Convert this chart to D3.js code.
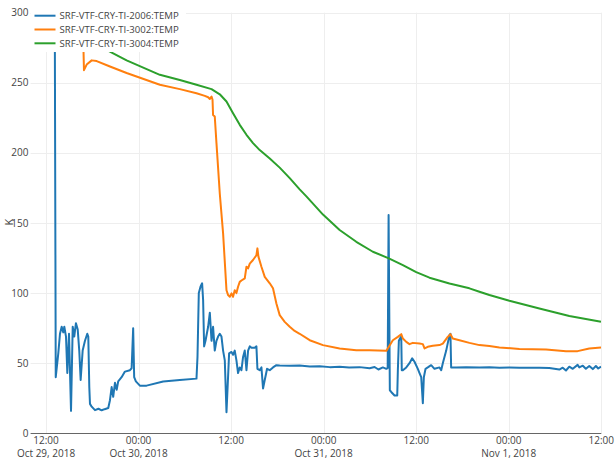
<!DOCTYPE html>
<html>
<head>
<meta charset="utf-8">
<script src="https://cdn.jsdelivr.net/npm/d3@7"></script>
<style>
  html, body { margin: 0; padding: 0; background: #fff; }
  svg { display: block; }
  text { font-family: "Open Sans", "DejaVu Sans", sans-serif; fill: #444; }
</style>
</head>
<body>
<svg id="chart" width="615" height="460"></svg>
<script>
// ---- data: [hours since 2018-10-29 00:00, temperature K] ----
const seriesNames = ["SRF-VTF-CRY-TI-2006:TEMP", "SRF-VTF-CRY-TI-3002:TEMP", "SRF-VTF-CRY-TI-3004:TEMP"];
const seriesColors = ["#1f77b4", "#ff7f0e", "#2ca02c"];

const ti2006 = [
  [13.14,290],[13.26,40],[13.59,57],[13.81,71],[14.03,76],[14.24,72],[14.37,76],[14.59,69],[14.76,43],
  [14.98,71],[15.24,16],[15.46,76],[15.66,69],[15.88,78.5],[16.11,74],[16.31,59],[16.49,38],[16.75,59],
  [17.05,66],[17.35,71],[17.48,69],[17.61,33],[17.70,21],[17.92,19],[18.35,16.5],[18.8,17.5],[19.21,16.4],
  [19.6,17.2],[20.07,18],[20.29,23.6],[20.51,33],[20.71,26],[20.94,36],[21.16,31],[21.36,37],[21.80,40],
  [22.23,44],[22.88,45],[23.10,46.4],[23.30,75],[23.43,40],[23.65,37],[24.17,34],[25.04,34],[27.19,37],
  [29.35,38],[31.51,39],[31.64,54.5],[31.81,100],[32.03,104.5],[32.24,107],[32.37,95],[32.50,62],[32.68,66],
  [33.02,76],[33.24,86],[33.46,66],[33.66,76],[33.88,59],[34.10,66],[34.31,69],[34.53,71],[34.75,69],
  [34.96,59],[35.18,52],[35.40,15],[35.74,57],[36.05,58],[36.25,56],[36.47,59],[36.69,52],[36.90,43],
  [37.12,47],[37.34,45],[37.55,54.5],[37.77,59],[37.99,45],[38.20,59],[38.42,62],[38.64,61],[39.06,61],
  [39.28,62],[39.41,46],[39.71,45],[39.93,47],[40.14,32],[40.36,38],[40.49,41.4],[40.66,46],[41.01,45],
  [41.43,47],[41.87,48.6],[42.30,48.4],[43.60,48.2],[44.89,48.4],[46.2,47.6],[47.48,47.8],[48.8,47.2],
  [50.07,47.5],[51.3,47.0],[52.66,47.2],[53.96,46.4],[54.6,47.3],[55.1,45.5],[55.68,47.0],[56.12,46],
  [56.30,46.5],[56.42,155.7],[56.58,30.7],[56.76,29.5],[57.19,27],[57.54,27],[57.62,45],[57.75,66],
  [57.93,68],[58.06,69],[58.13,45],[58.27,45],[58.71,47],[59.13,50],[59.48,53.5],[59.78,51],[60.21,46],
  [60.43,43],[60.65,40],[60.86,21.5],[60.99,40],[61.21,46],[61.50,47],[61.94,48.6],[62.37,46],[63.02,47],
  [63.24,45],[63.45,50],[63.89,59],[64.31,70],[64.44,71],[64.53,47],[65.18,47],[66.48,47.2],[68.20,46.9],
  [69.49,47.1],[70.79,46.8],[72.08,46.9],[73.38,46.8],[74.67,46.8],[75.97,46.7],[77.26,46.5],[78.56,45.5],
  [79.0,46.8],[79.42,44.8],[79.85,47.5],[80.3,46],[80.93,48.8],[81.15,47],[81.6,48.2],[82.0,46],[82.44,48],
  [82.9,45.8],[83.3,48],[83.6,46.2],[83.96,47.5]
];

const ti3002 = [
  [16.83,280],[16.92,259],[17.27,263],[17.92,266],[18.57,265.5],[20.29,261.6],[22.45,257],[26.76,248.6],
  [29.35,245.5],[31.51,242.6],[32.59,240.7],[33.02,239.7],[33.24,238.5],[33.46,240.2],[33.59,237.9],
  [33.66,227],[33.88,226],[34.10,207],[34.53,171],[34.96,142.6],[35.40,102],[35.61,98.6],[35.83,97.4],
  [36.05,99.8],[36.25,97.4],[36.47,102],[36.69,100],[36.90,104.5],[37.12,108],[37.34,109],[37.77,110.5],
  [37.99,118.8],[38.20,117.6],[38.42,121],[38.84,123.6],[39.28,127],[39.41,131.9],[39.54,126],[39.93,118.8],
  [40.36,111.6],[41.01,107],[41.43,103.4],[41.87,92.6],[42.30,84.3],[42.95,79.5],[43.60,76],[44.24,73],
  [44.89,71],[46.19,66.4],[47.91,62.9],[50.07,60.5],[52.23,59.3],[53.96,59.2],[56.12,58.8],[56.45,61.7],
  [56.97,66.4],[57.62,68.8],[58.06,70.7],[58.27,67.6],[58.71,65.2],[59.13,63.6],[59.56,64.5],[60.43,64],
  [60.86,63.6],[61.08,60.5],[61.50,61.7],[62.15,62.4],[63.02,62.9],[63.45,64],[64.09,68.8],[64.44,70.7],
  [64.74,67.6],[65.61,66.4],[66.90,64.5],[68.20,62.9],[69.49,62.2],[70.79,61.2],[73.38,60.2],[76.84,59.8],
  [79.42,58.6],[80.93,58.6],[82.44,60.5],[83.96,61.2]
];

const ti3004 = [
  [18.35,278],[20.71,271],[22.45,266],[26.76,255.7],[29.35,252],[31.51,248.6],[33.46,245.5],[34.53,241.8],
  [35.40,236.7],[36.25,228.3],[37.12,220],[37.99,212.9],[38.84,207],[39.71,202],[41.01,196],[42.30,189.5],
  [43.60,182],[44.89,174],[45.76,169],[47.91,156],[50.07,145],[52.23,136.6],[54.38,129.5],[56.45,124.8],
  [58.27,120],[60.00,115],[61.72,111],[64.31,106.9],[66.90,103.4],[68.20,101],[69.49,98.6],[72.08,94.5],
  [75.97,89],[79.85,83.6],[83.96,79.5]
];

const yTicks = [0, 50, 100, 150, 200, 250, 300];
const xTickHours = [12, 24, 36, 48, 60, 72, 84];
const xTickLine1 = ["12:00", "00:00", "12:00", "00:00", "12:00", "00:00", "12:00"];
const xTickLine2 = ["Oct 29, 2018", "Oct 30, 2018", "", "Oct 31, 2018", "", "Nov 1, 2018", ""];
const yTitle = "K";
const xDomainHours = [10, 84];
const yDomain = [0, 300];

// ---- chart ----
const base = Date.UTC(2018, 9, 29, 0, 0);
const toDate = h => new Date(base + h * 3600 * 1000);

const svg = d3.select("#chart");
const pLeft = 30.6, pRight = 601.3, pTop = 12.7, pBottom = 433.3;

const x = d3.scaleUtc().domain(xDomainHours.map(toDate)).range([pLeft, pRight]);
const y = d3.scaleLinear().domain(yDomain).range([pBottom, pTop]);

// grid
const grid = svg.append("g");
grid.selectAll("line.h").data(yTicks.filter(d => d !== 0)).join("line")
  .attr("x1", pLeft).attr("x2", pRight)
  .attr("y1", d => Math.round(y(d)) + 0.5).attr("y2", d => Math.round(y(d)) + 0.5)
  .attr("stroke", "#eee").attr("stroke-width", 1);
grid.selectAll("line.v").data(xTickHours).join("line")
  .attr("x1", d => Math.round(x(toDate(d))) + 0.5).attr("x2", d => Math.round(x(toDate(d))) + 0.5)
  .attr("y1", pTop).attr("y2", pBottom)
  .attr("stroke", "#eee").attr("stroke-width", 1);

// zero line
svg.append("line")
  .attr("x1", pLeft).attr("x2", pRight)
  .attr("y1", Math.round(y(0)) + 0.5).attr("y2", Math.round(y(0)) + 0.5)
  .attr("stroke", "#666").attr("stroke-width", 1);

// y tick labels
svg.append("g").selectAll("text").data(yTicks).join("text")
  .attr("x", 28.5).attr("y", d => y(d))
  .attr("dy", "0.35em")
  .attr("text-anchor", "end")
  .style("font-size", "10px")
  .text(d => d);

// x tick labels
const xt = svg.append("g").selectAll("g").data(xTickHours).join("g")
  .attr("transform", d => `translate(${x(toDate(d))},0)`);
xt.append("text").attr("y", 443.6).attr("text-anchor", "middle").style("font-size", "10px")
  .text((d, i) => xTickLine1[i]);
xt.append("text").attr("y", 456.6).attr("text-anchor", "middle").style("font-size", "10px")
  .text((d, i) => xTickLine2[i]);

// y title
svg.append("text")
  .attr("transform", `translate(13,222) rotate(-90)`)
  .attr("text-anchor", "middle")
  .style("font-size", "11px")
  .text(yTitle);

// lines
svg.append("clipPath").attr("id", "clip").append("rect")
  .attr("x", pLeft).attr("y", pTop).attr("width", pRight - pLeft).attr("height", pBottom - pTop);

const line = d3.line().x(d => x(toDate(d[0]))).y(d => y(d[1]));
const allSeries = [ti2006, ti3002, ti3004];
svg.append("g").attr("clip-path", "url(#clip)")
  .selectAll("path").data(allSeries).join("path")
  .attr("d", line)
  .attr("fill", "none")
  .attr("stroke", (d, i) => seriesColors[i])
  .attr("stroke-width", 2)
  .attr("stroke-linejoin", "round");

// legend
const lg = svg.append("g");
lg.append("rect").attr("x", 31).attr("y", 0).attr("width", 155).attr("height", 52).attr("fill", "#fff");
const rows = lg.selectAll("g").data(seriesNames).join("g")
  .attr("transform", (d, i) => `translate(0,${15.7 + i * 13.8})`);
rows.append("line").attr("x1", 34.5).attr("x2", 55.5).attr("y1", 0).attr("y2", 0)
  .attr("stroke", (d, i) => seriesColors[i]).attr("stroke-width", 2);
rows.append("text").attr("x", 59.5).attr("y", 0).attr("dy", "0.35em")
  .style("font-size", "9.6px").text(d => d);
</script>
</body>
</html>
